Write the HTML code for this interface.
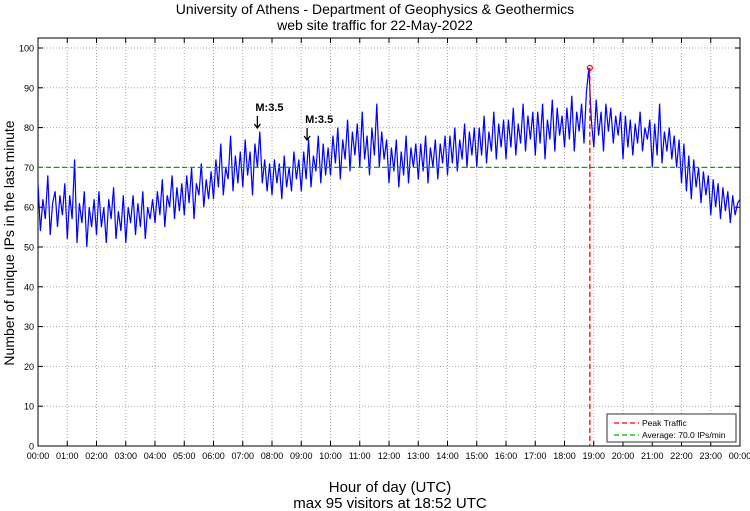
<!DOCTYPE html>
<html><head><meta charset="utf-8"><style>
body{margin:0;background:#fff;}
svg{display:block;font-family:"Liberation Sans",sans-serif;}
</style></head><body>
<svg id="c" width="750" height="511">
<text x="375" y="14" text-anchor="middle" font-size="14">University of Athens - Department of Geophysics &amp; Geothermics</text>
<text x="375" y="30" text-anchor="middle" font-size="14">web site traffic for 22-May-2022</text>
<text transform="translate(14,243) rotate(-90)" text-anchor="middle" font-size="14">Number of unique IPs in the last minute</text>
<text x="390" y="492" text-anchor="middle" font-size="15">Hour of day (UTC)</text>
<text x="390" y="508" text-anchor="middle" font-size="15">max 95 visitors at 18:52 UTC</text>
<g id="grid"></g><g id="series"></g><g id="ann"></g>
</svg>
<script>
const yTicks=[0,10,20,30,40,50,60,70,80,90,100];
const xTickLabels=["00:00","01:00","02:00","03:00","04:00","05:00","06:00","07:00","08:00","09:00","10:00","11:00","12:00","13:00","14:00","15:00","16:00","17:00","18:00","19:00","20:00","21:00","22:00","23:00","00:00"];
const traffic=[
66,54,62,57,68,53,61,64,55,63,58,66,
52,63,57,72,51,61,56,64,50,60,55,62,
53,64,55,60,51,62,57,65,52,59,54,63,
51,60,56,63,53,61,55,64,52,60,57,62,
56,64,58,67,55,63,60,68,57,65,59,66,
58,68,61,70,57,66,63,71,60,67,62,69,
62,72,65,76,63,70,67,78,64,73,66,74,
65,77,68,74,63,76,70,79,66,72,64,71,
63,72,66,71,62,73,65,70,64,74,67,72,
64,74,67,77,65,73,69,78,66,76,68,75,
68,78,71,80,67,77,72,82,69,79,73,81,
70,84,72,78,68,80,73,86,70,79,72,77,
66,75,69,77,65,74,68,78,66,75,70,76,
67,76,69,78,66,75,70,77,67,76,71,78,
68,78,71,80,69,77,72,81,70,79,73,80,
70,80,73,83,71,79,74,84,72,81,75,82,
72,82,75,85,73,81,76,86,74,83,77,84,
73,84,76,86,72,82,77,87,74,85,78,83,
75,85,77,88,74,84,79,86,76,89,95,82,
75,87,78,84,74,86,79,85,76,83,78,84,
72,83,75,82,73,81,76,84,74,80,77,82,
70,81,73,86,71,79,74,80,72,78,70,77,
66,76,64,73,62,72,65,70,61,69,63,68,
58,67,60,66,57,65,59,64,56,63,58,61,62];
const average=[70.0];
const peakHour=[18+52/60];
const peakValue=[95];
const quakeHours=[7.5,9.2];
const quakeLabels=["M:3.5","M:3.5"];

const L=38,R=740,T=38,B=446,Y0=446,YPU=3.98;
const xs=h=>L+h*(R-L)/24, ys=v=>Y0-v*YPU;
const NS="http://www.w3.org/2000/svg";
function mk(tag,attrs,parent,text){const e=document.createElementNS(NS,tag);for(const k in attrs)e.setAttribute(k,attrs[k]);if(text!=null)e.textContent=text;parent.appendChild(e);return e;}
const g=document.getElementById('grid'),s=document.getElementById('series'),a=document.getElementById('ann');
yTicks.forEach(v=>{const y=ys(v);
 if(v>0){const l=mk('line',{x1:L,x2:R,y1:y,y2:y,stroke:'#aaa','stroke-dasharray':'1,2'},g);}
 mk('line',{x1:L,x2:L+5,y1:y,y2:y,stroke:'#000'},g);mk('line',{x1:R-5,x2:R,y1:y,y2:y,stroke:'#000'},g);
 const t=mk('text',{x:L-4,y:y+3.5,'text-anchor':'end','font-size':9},g,v);});
xTickLabels.forEach((lab,i)=>{const x=xs(i);
 if(i>0&&i<24){const l=mk('line',{x1:x,x2:x,y1:T,y2:B,stroke:'#aaa','stroke-dasharray':'1,2'},g);}
 mk('line',{x1:x,x2:x,y1:B,y2:B-5,stroke:'#000'},g);mk('line',{x1:x,x2:x,y1:T,y2:T+5,stroke:'#000'},g);
 const t=mk('text',{x:x,y:B+13,'text-anchor':'middle','font-size':9},g,lab);});
const box=mk('rect',{x:L,y:T,width:R-L,height:B-T,fill:'none',stroke:'#000'},g);

const n=traffic.length-1;
const pts=traffic.map((v,i)=>xs(i*24/n).toFixed(1)+','+ys(v).toFixed(1)).join(' ');
const pl=mk('polyline',{points:pts,fill:'none',stroke:'#0000ff','stroke-width':1.2},s);

const av=mk('line',{x1:L,x2:R,y1:ys(average[0]),y2:ys(average[0]),stroke:'#00b000','stroke-width':1.3,'stroke-dasharray':'5,3'},s);

const px=xs(peakHour[0]);
const pk=mk('line',{x1:px,x2:px,y1:ys(peakValue[0]),y2:B,stroke:'#ff0000','stroke-width':1.3,'stroke-dasharray':'5,3'},s);

const pm=mk('circle',{cx:px,cy:ys(peakValue[0]),r:2.5,fill:'none',stroke:'#ff0000','stroke-width':1.2},s);

quakeHours.forEach((h,i)=>{const x=xs(h),yb=i==0?128:140;
 const t=mk('text',{x:x-2,y:yb-17,'font-size':11,'font-weight':'bold'},a,quakeLabels[i]);
 const ar=mk('g',{},a);
 mk('line',{x1:x,x2:x,y1:yb-12,y2:yb,stroke:'#000','stroke-width':1.3},ar);
 mk('polyline',{points:(x-3)+','+(yb-4)+' '+x+','+yb+' '+(x+3)+','+(yb-4),fill:'none',stroke:'#000','stroke-width':1.3},ar);});
const lg=mk('g',{},a);
mk('rect',{x:607,y:414,width:129,height:28,fill:'#fff',stroke:'#333'},lg);
mk('line',{x1:614,x2:639,y1:423,y2:423,stroke:'#ff0000','stroke-width':1.3,'stroke-dasharray':'5,3'},lg);
const l1=mk('text',{x:642,y:426,'font-size':8.5},lg,'Peak Traffic');
mk('line',{x1:614,x2:639,y1:435,y2:435,stroke:'#00b000','stroke-width':1.3,'stroke-dasharray':'5,3'},lg);
const l2=mk('text',{x:642,y:438,'font-size':8.5},lg,'Average: 70.0 IPs/min');
</script>
</body></html>
